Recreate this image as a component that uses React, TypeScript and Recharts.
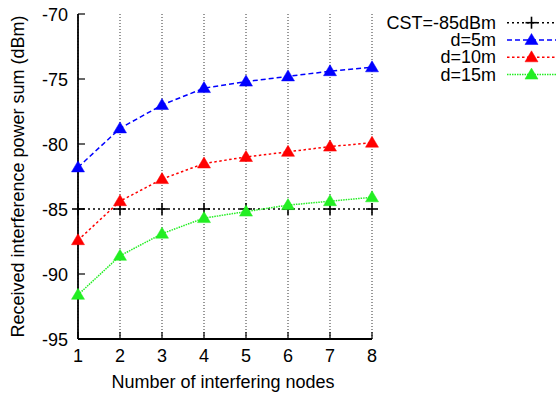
import React from 'react';
import { LineChart, Line, XAxis, YAxis, CartesianGrid, Legend } from 'recharts';

const nodes = [1, 2, 3, 4, 5, 6, 7, 8];
const cst = [-85, -85, -85, -85, -85, -85, -85, -85];
const d5 = [-81.8, -78.8, -77.0, -75.7, -75.2, -74.8, -74.4, -74.1];
const d10 = [-87.4, -84.4, -82.7, -81.5, -81.0, -80.6, -80.2, -79.9];
const d15 = [-91.6, -88.6, -86.9, -85.7, -85.2, -84.7, -84.4, -84.1];
const yTicks = [-95, -90, -85, -80, -75, -70];
const seriesNames = ['CST=-85dBm', 'd=5m', 'd=10m', 'd=15m'];

const data = nodes.map((n, i) => ({ n, cst: cst[i], d5: d5[i], d10: d10[i], d15: d15[i] }));

const FONT = "'Liberation Sans', Arial, Helvetica, sans-serif";
const FS = 18;

const styles: Record<string, { color: string; dash: string; marker: 'plus' | 'tri'; width: number }> = {
  cst: { color: '#000000', dash: '2 3', marker: 'plus', width: 1.5 },
  d5: { color: '#0000ff', dash: '5 3', marker: 'tri', width: 1.5 },
  d10: { color: '#ff0000', dash: '2.5 2.5', marker: 'tri', width: 1.5 },
  d15: { color: '#22ee22', dash: '1.5 1', marker: 'tri', width: 1.5 },
};
const keys = ['cst', 'd5', 'd10', 'd15'];

const Marker = ({ cx, cy, kind, color }: any) => {
  if (cx == null || cy == null) return null;
  if (kind === 'plus') {
    return (
      <g>
        <line x1={cx - 6} x2={cx + 6} y1={cy} y2={cy} stroke={color} strokeWidth={1.6} />
        <line x1={cx} x2={cx} y1={cy - 6} y2={cy + 6} stroke={color} strokeWidth={1.6} />
      </g>
    );
  }
  return (
    <polygon
      points={`${cx},${cy - 6.5} ${cx - 6.5},${cy + 4.5} ${cx + 6.5},${cy + 4.5}`}
      fill={color}
      stroke={color}
      strokeWidth={0.5}
    />
  );
};

const makeDot = (k: string) => (props: any) => (
  <Marker key={`${k}-${props.index}`} cx={props.cx} cy={props.cy} kind={styles[k].marker} color={styles[k].color} />
);

const YTick = (props: any) => {
  const { x, y, payload } = props;
  return (
    <g>
      <line x1={x + 10} x2={x + 17} y1={y} y2={y} stroke="#000" strokeWidth={1.2} />
      <text x={x} y={y + 6.5} textAnchor="end" fontSize={FS} fill="#000" fontFamily={FONT}>
        {payload.value}
      </text>
    </g>
  );
};

const XTick = (props: any) => {
  const { x, y, payload } = props;
  return (
    <g>
      <line x1={x} x2={x} y1={y} y2={y - 7} stroke="#000" strokeWidth={1.2} />
      <text x={x} y={y + 22.5} textAnchor="middle" fontSize={FS} fill="#000" fontFamily={FONT}>
        {payload.value}
      </text>
    </g>
  );
};

const YLabel = (props: any) => {
  const vb = props.viewBox || { x: 0, y: 14, width: 78, height: 325 };
  const cx = vb.x + 24;
  const cy = vb.y + vb.height / 2;
  return (
    <text
      x={cx}
      y={cy}
      transform={`rotate(-90 ${cx} ${cy})`}
      textAnchor="middle"
      fontSize={FS}
      fill="#000"
      fontFamily={FONT}
    >
      Received interference power sum (dBm)
    </text>
  );
};

const XLabel = (props: any) => {
  const vb = props.viewBox || { x: 78, y: 339, width: 294, height: 57 };
  const cx = vb.x + vb.width / 2 - 2;
  return (
    <text x={cx} y={vb.y + 49} textAnchor="middle" fontSize={FS} fill="#000" fontFamily={FONT}>
      Number of interfering nodes
    </text>
  );
};

const LegendContent = () => (
  <svg width={179} height={90} style={{ display: 'block' }}>
    {keys.map((k, i) => {
      const yc = 22.7 + i * 17.3;
      const s = styles[k];
      return (
        <g key={k}>
          <text x={116} y={yc + 6} textAnchor="end" fontSize={FS} fill="#000" fontFamily={FONT}>
            {seriesNames[i]}
          </text>
          <line x1={127} x2={176} y1={yc} y2={yc} stroke={s.color} strokeWidth={s.width} strokeDasharray={s.dash} />
          <Marker cx={151.5} cy={yc} kind={s.marker} color={s.color} />
        </g>
      );
    })}
  </svg>
);

export default function App() {
  return (
    <div style={{ position: 'absolute', left: 0, top: 0, fontFamily: FONT }}>
      <LineChart width={559} height={396} data={data} margin={{ top: 14, right: 187, bottom: 0, left: 0 }}>
        <CartesianGrid horizontal={false} stroke="#333" strokeDasharray="1 2" strokeWidth={1} />
        <XAxis
          dataKey="n"
          type="number"
          domain={[1, 8]}
          ticks={nodes}
          height={57}
          tickSize={0}
          tickMargin={0}
          tickLine={false}
          tick={<XTick />}
          axisLine={{ stroke: '#000', strokeWidth: 1.8 }}
          label={<XLabel />}
        />
        <XAxis
          xAxisId="top"
          dataKey="n"
          type="number"
          orientation="top"
          mirror
          height={0}
          domain={[1, 8]}
          ticks={nodes}
          tick={false}
          tickLine={false}
          axisLine={{ stroke: '#000', strokeWidth: 1.8 }}
        />
        <YAxis
          type="number"
          domain={[-95, -70]}
          ticks={yTicks}
          width={78}
          tickSize={0}
          tickMargin={10}
          tickLine={false}
          tick={<YTick />}
          axisLine={{ stroke: '#000', strokeWidth: 1.8 }}
          label={<YLabel />}
        />
        <YAxis
          yAxisId="right"
          type="number"
          orientation="right"
          mirror
          width={0}
          domain={[-95, -70]}
          ticks={yTicks}
          tick={false}
          tickSize={7}
          tickLine={{ stroke: '#000', strokeWidth: 1.2 }}
          axisLine={{ stroke: '#000', strokeWidth: 1.8 }}
        />
        <Legend
          layout="horizontal"
          verticalAlign="middle"
          align="center"
          content={<LegendContent />}
          wrapperStyle={{ position: 'absolute', left: 380, top: 0, width: 179, height: 90 }}
        />
        {keys.map((k, i) => (
          <Line
            key={k}
            dataKey={k}
            name={seriesNames[i]}
            type="linear"
            stroke={styles[k].color}
            strokeWidth={styles[k].width}
            strokeDasharray={styles[k].dash}
            dot={makeDot(k)}
            activeDot={false}
            isAnimationActive={false}
          />
        ))}
      </LineChart>
    </div>
  );
}
